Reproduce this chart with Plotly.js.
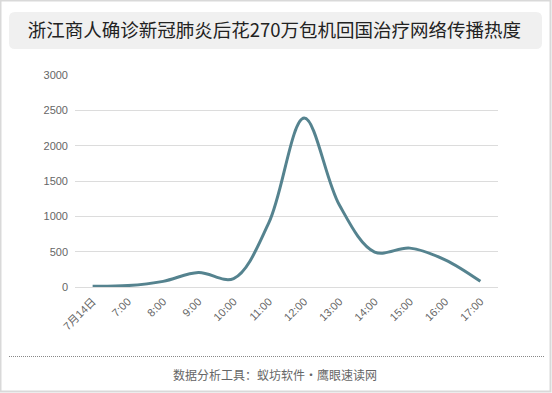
<!DOCTYPE html>
<html>
<head>
<meta charset="utf-8">
<script src="https://cdn.plot.ly/plotly-3.0.1.min.js"></script>
<style>html,body{margin:0;padding:0;background:#fff;}#chart{width:552px;height:393px;}</style>
</head>
<body>
<div id="chart"></div>
<script>
const categories = ['7月14日','7:00','8:00','9:00','10:00','11:00','12:00','13:00','14:00','15:00','16:00','17:00'];
const heatValues = [10, 20, 80, 205, 120, 910, 2390, 1160, 495, 550, 385, 80];
const yTicks = [0, 500, 1000, 1500, 2000, 2500, 3000];
const titleText = '浙江商人确诊新冠肺炎后花270万包机回国治疗网络传播热度';
const footerText = '数据分析工具：蚁坊软件·鹰眼速读网';

const W = 552, H = 393;
const M = {l: 75, r: 54, t: 75, b: 106};
const PW = W - M.l - M.r, PH = H - M.t - M.b;
const px = X => (X - M.l) / PW;
const py = Y => (H - M.b - Y) / PH;

function roundRect(x0, y0, x1, y1, r) {
  const rx = r / PW, ry = r / PH;
  const a = px(x0), b = px(x1), top = py(y0), bot = py(y1);
  return `M ${a+rx},${top} L ${b-rx},${top} Q ${b},${top} ${b},${top-ry} L ${b},${bot+ry} Q ${b},${bot} ${b-rx},${bot} L ${a+rx},${bot} Q ${a},${bot} ${a},${bot+ry} L ${a},${top-ry} Q ${a},${top} ${a+rx},${top} Z`;
}

const trace = {
  x: categories,
  y: heatValues,
  type: 'scatter',
  mode: 'lines',
  line: {shape: 'spline', smoothing: 1, color: '#55838f', width: 3},
  hoverinfo: 'x+y'
};

const layout = {
  width: W, height: H,
  margin: M,
  paper_bgcolor: '#ffffff',
  plot_bgcolor: '#ffffff',
  showlegend: false,
  font: {family: 'Liberation Sans, Arial, Noto Sans CJK SC, sans-serif', size: 11, color: '#666'},
  title: {
    text: titleText,
    font: {family: 'Noto Sans CJK SC, sans-serif', size: 18.5, color: '#222'},
    xref: 'container', yref: 'container',
    x: 0.497, y: 1 - 31/H, xanchor: 'center', yanchor: 'middle'
  },
  xaxis: {
    type: 'category',
    categoryorder: 'array', categoryarray: categories,
    tickangle: -45,
    showgrid: false, zeroline: false, showline: false,
    ticks: '', ticklabelstandoff: 5,
    tickfont: {family: 'Liberation Sans, Arial, Noto Sans CJK SC, sans-serif', size: 11, color: '#666'},
    range: [-0.5, categories.length - 0.5],
    fixedrange: true
  },
  yaxis: {
    range: [0, 3000],
    tickvals: yTicks,
    ticktext: yTicks.map(String),
    showgrid: true, gridcolor: '#dcdcdc', gridwidth: 1,
    zeroline: true, zerolinecolor: '#dcdcdc', zerolinewidth: 1,
    showline: false, ticks: '', ticklabelstandoff: 6,
    tickfont: {family: 'Liberation Sans, Arial, sans-serif', size: 11, color: '#666'},
    fixedrange: true
  },
  shapes: [
    {type: 'rect', xref: 'paper', yref: 'paper', x0: px(0.5), x1: px(550.5), y0: py(0.5), y1: py(391.5),
     line: {color: '#d9d9d9', width: 2}, fillcolor: 'rgba(0,0,0,0)', layer: 'below'},
    {type: 'path', xref: 'paper', yref: 'paper', path: roundRect(9, 12, 542, 49, 6),
     fillcolor: '#f0f0f0', line: {width: 0}, layer: 'below'},
    {type: 'line', xref: 'paper', yref: 'paper', x0: px(9), x1: px(544), y0: py(356.5), y1: py(356.5),
     line: {color: '#888', width: 1, dash: '1px,1px'}}
  ],
  annotations: [
    {text: footerText, xref: 'paper', yref: 'paper', x: px(275), y: py(374.5),
     xanchor: 'center', yanchor: 'middle', showarrow: false,
     font: {family: 'Noto Sans CJK SC, sans-serif', size: 12, color: '#666'}}
  ]
};

Plotly.newPlot('chart', [trace], layout, {displayModeBar: false, staticPlot: true});
</script>
</body>
</html>
